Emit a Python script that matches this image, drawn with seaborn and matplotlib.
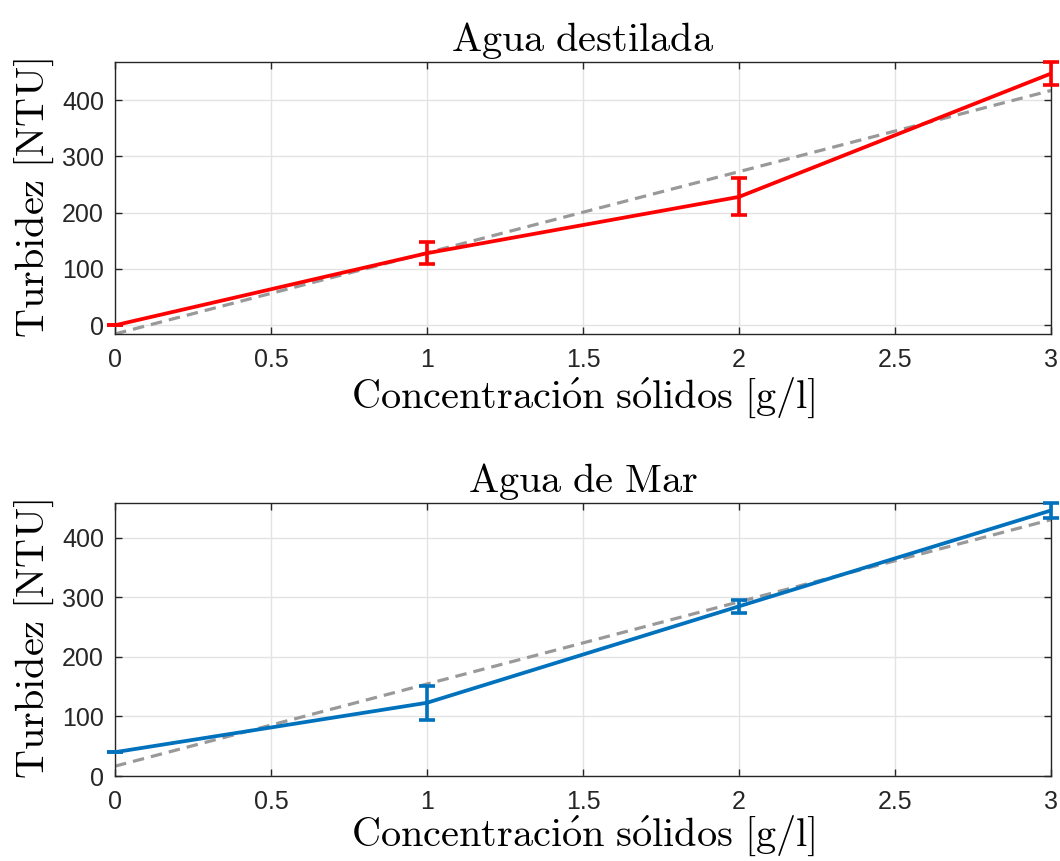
import numpy as np
import pandas as pd
import matplotlib
matplotlib.use("Agg")
import matplotlib.pyplot as plt
import seaborn as sns

# Measured turbidity vs. solids concentration
conc = [0, 1, 2, 3]
turb_destilada = [0, 128, 228, 447]
err_destilada = [0, 19, 33, 20.5]
turb_mar = [40, 123, 285, 446]
err_mar = [0, 28.5, 10.5, 12.5]

titles = ["Agua destilada", "Agua de Mar"]
colors = ["#ff0000", "#0072bd"]
xticks = [0, 0.5, 1, 1.5, 2, 2.5, 3]
xtick_labels = ["0", "0.5", "1", "1.5", "2", "2.5", "3"]
yticks = [0, 100, 200, 300, 400]

sns.set_theme(style="whitegrid")
plt.rcParams["font.family"] = ["Liberation Sans", "DejaVu Sans"]
plt.rcParams["mathtext.fontset"] = "cm"

W, H = 1060, 861
fig = plt.figure(figsize=(W / 100, H / 100), dpi=100)

# axes boxes in pixels: left, top, right, bottom
boxes = [(115, 62, 1051, 334), (115, 503, 1051, 776)]
ylims = [(-15.5, 467.5), (0, 458.5)]
xlabel_pads = [3, 0]

series = [(turb_destilada, err_destilada), (turb_mar, err_mar)]

for i, ((l, t, r, b), (y, e)) in enumerate(zip(boxes, series)):
    ax = fig.add_axes([l / W, 1 - b / H, (r - l) / W, (b - t) / H])
    df = pd.DataFrame({"x": conc, "y": y})

    # least-squares fit of the measurements
    sns.regplot(data=df, x="x", y="y", ax=ax, scatter=False, ci=None,
                line_kws=dict(color="#999999", lw=2.3, ls=(0, (3.6, 2.2)), zorder=2))
    sns.lineplot(data=df, x="x", y="y", ax=ax, color=colors[i], lw=2.7, zorder=3)
    eb = ax.errorbar(conc, y, yerr=e, fmt="none", ecolor=colors[i],
                     elinewidth=2.6, capsize=5.8, capthick=2.6, zorder=4)
    for art in eb.lines[1] + eb.lines[2]:
        art.set_clip_on(False)

    ax.set_xlim(0, 3)
    ax.set_ylim(*ylims[i])
    ax.set_xticks(xticks)
    ax.set_xticklabels(xtick_labels)
    ax.set_yticks(yticks)
    ax.grid(True, color="#e3e3e3", lw=1)
    ax.set_facecolor("white")
    for s in ax.spines.values():
        s.set_color("#262626")
        s.set_linewidth(1.0)
    ax.tick_params(direction="in", length=5, width=1, color="#262626",
                   labelsize=18, labelcolor="#262626", top=True, right=True,
                   bottom=True, left=True)
    ax.tick_params(axis="x", pad=10)
    ax.tick_params(axis="y", pad=8)
    ax.set_title(titles[i].replace(" ", r"\ ").join([r"$\mathrm{", "}$"]),
                 fontsize=29, pad=8, color="black")
    ax.set_xlabel(r"$\mathrm{Concentraci\acute{o}n\ s\acute{o}lidos\ [g/l]}$",
                  fontsize=29, labelpad=xlabel_pads[i], color="black")
    ax.set_ylabel(r"$\mathrm{Turbidez\ [NTU]}$", fontsize=29, labelpad=4,
                  color="black")

fig.savefig("out.png", dpi=100, facecolor="white")
